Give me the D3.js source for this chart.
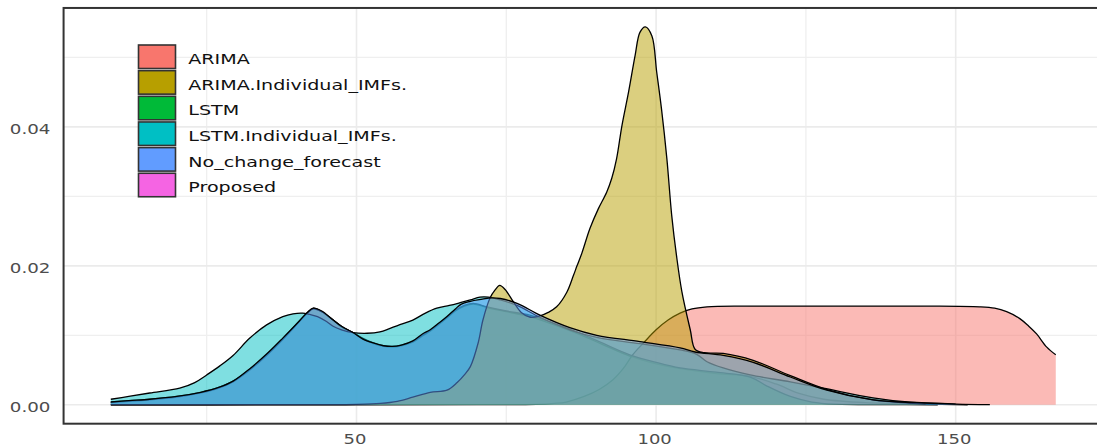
<!DOCTYPE html>
<html><head><meta charset="utf-8">
<script src="https://cdn.jsdelivr.net/npm/d3@7"></script>
<style>body{margin:0;background:#fff} svg{display:block}</style>
</head><body><svg id="c" width="1097" height="448"></svg>
<script>
// ---- data ----
const seriesNames = ["ARIMA","ARIMA.Individual_IMFs.","LSTM","LSTM.Individual_IMFs.","No_change_forecast","Proposed"];
const palette = ["#F8766D","#B79F00","#00BA38","#00BFC4","#619CFF","#F564E3"];
const drawOrder = ["Proposed","ARIMA","LSTM","LSTM.Individual_IMFs.","ARIMA.Individual_IMFs.","No_change_forecast"];

const arimaX = [9,40,70,80,83,85,88,90.5,92.8,94.5,96.1,98,100,102,104,106,108.5,115,130,145,154,156.5,158.5,160.7,162.2,163.5,165.2,166.7];
const arimaY = [0.00001,0.00001,0.00002,0.00005,0.0002,0.0004,0.0012,0.0022,0.0036,0.0052,0.0072,0.0090,0.0108,0.0122,0.0132,0.0138,0.0141,0.0142,0.0142,0.0142,0.0141,0.0139,0.0134,0.0124,0.0113,0.0102,0.0083,0.0072];

const arimaImfX = [9,40,50,54,56.8,59.4,62.3,65.1,66.8,68,69,70.3,71.1,72.3,73.1,73.9,74.8,76.2,77.5,79,80.6,82,83.4,85.1,86.2,86.8,87.6,88.97,90.35,91.75,92.6,93.4,94.3,95.4,96.5,97.3,98.2,99.3,100.1,100.9,101.8,102.6,103.4,104.3,105.7,106.5,108,111.2,116.2,122.4,128.5,136.2,145];
const arimaImfY = [0.00001,0.00002,0.00006,0.0002,0.0005,0.0011,0.0018,0.0021,0.0032,0.0043,0.0055,0.0089,0.0122,0.0154,0.0165,0.0172,0.0166,0.0148,0.0133,0.0126,0.0128,0.0133,0.0141,0.0162,0.0186,0.0200,0.0218,0.0254,0.0282,0.0306,0.0326,0.0354,0.0402,0.0450,0.0503,0.0536,0.0544,0.0531,0.0479,0.0426,0.0354,0.0273,0.0215,0.0163,0.0108,0.0080,0.0075,0.0074,0.0064,0.0042,0.0022,0.0007,0.0001];

const lstmX = [9,12,15.5,20,24,27,29.4,32.2,35,37.7,40.5,41.8,42.8,44.2,46.1,47.5,49.4,51,52.8,54.5,56,57.5,59.4,61,62.3,63.8,65.1,66.5,68,69.5,71.8,75,78.9,83,87.3,91,95.6,100,104,110,115.7,118.5,122.4,126,130,138,147];
const lstmY = [0.0003,0.0005,0.0007,0.0011,0.0017,0.0024,0.0033,0.0050,0.0071,0.0094,0.0120,0.0132,0.0138,0.0134,0.0122,0.0113,0.0104,0.0096,0.0089,0.0085,0.0084,0.0086,0.0091,0.0100,0.0107,0.0117,0.0126,0.0136,0.0143,0.0146,0.0141,0.0135,0.0129,0.0117,0.0103,0.0089,0.0072,0.0061,0.0053,0.0047,0.0040,0.0027,0.0012,0.0004,0.0001,0.00003,0.00001];

const lstmImfX = [9,12,15.5,20.5,23,25,27.2,29.4,32.2,35,37.7,39.4,41,42.2,43.5,45,46.1,47.5,49.4,51.8,53.9,55.6,57.5,59.4,61.5,63.4,65.5,67.3,69,70.6,72,74,76.8,80.6,85.6,90.1,97.3,104,106.7,108.5,111.2,115.7,122.4,127.9,136.2,142,150];
const lstmImfY = [0.0008,0.0012,0.0017,0.0024,0.0032,0.0043,0.0056,0.0071,0.0096,0.0115,0.0127,0.0131,0.0132,0.0130,0.0127,0.0120,0.0113,0.0108,0.0104,0.0103,0.0105,0.0110,0.0116,0.0122,0.0132,0.0139,0.0143,0.0147,0.0151,0.0155,0.0155,0.0151,0.0143,0.0126,0.0108,0.0097,0.0088,0.0079,0.0073,0.0062,0.0053,0.0043,0.0033,0.0024,0.0010,0.0004,0.0001];

const noChangeX = [9,12,15.5,20,24,27,29.4,32.2,35,37.7,40.5,41.8,42.8,44.2,46.1,47.5,49.4,51,52.8,54.5,56,57.5,59.4,61,62.3,63.8,65.1,66.5,67.5,69,71,72.5,74,76.8,80.6,85.6,90.1,97.3,104,106.5,111.2,116.2,122.4,128.5,136.2,143.5,150,155.7];
const noChangeY = [0.0004,0.0006,0.0008,0.0012,0.0018,0.0025,0.0034,0.0052,0.0073,0.0096,0.0121,0.0133,0.0139,0.0135,0.0122,0.0113,0.0104,0.0095,0.0089,0.0085,0.0084,0.0086,0.0092,0.0102,0.0108,0.0118,0.0127,0.0138,0.0145,0.0149,0.0152,0.0154,0.0153,0.0146,0.0129,0.0111,0.0100,0.0091,0.0082,0.0076,0.0071,0.0061,0.0040,0.0021,0.0007,0.0003,0.0001,0.00002];

const proposedX = [9,12,15.5,20,24,27,29.4,32.2,35,37.7,40.5,41.8,42.8,44.2,46.1,47.5,49.4,51,52.8,54.5,56,57.5,59.4,61,62.3,63.8,65.1,66.5,68,69.5,71.8,75,78.9,83,87.3,91,95.6,100,104,110,115.7,120,124,128,135,145,152];
const proposedY = [0.0004,0.0006,0.0008,0.0012,0.0018,0.0025,0.0034,0.0051,0.0072,0.0095,0.0121,0.0133,0.0139,0.0134,0.0122,0.0112,0.0104,0.0095,0.0088,0.0084,0.0083,0.0085,0.0090,0.0099,0.0106,0.0116,0.0125,0.0135,0.0142,0.0145,0.0140,0.0134,0.0127,0.0115,0.0101,0.0087,0.0070,0.0059,0.0052,0.0045,0.0041,0.0030,0.0016,0.0008,0.0003,0.0001,0.00001];

const xMajorTicks = [50,100,150];
const xMinorTicks = [25,75,125,175];
const yMajorTicks = [0,0.02,0.04];
const yMinorTicks = [0.01,0.03,0.05];

const seriesData = {
  "ARIMA": d3.zip(arimaX, arimaY),
  "ARIMA.Individual_IMFs.": d3.zip(arimaImfX, arimaImfY),
  "LSTM": d3.zip(lstmX, lstmY),
  "LSTM.Individual_IMFs.": d3.zip(lstmImfX, lstmImfY),
  "No_change_forecast": d3.zip(noChangeX, noChangeY),
  "Proposed": d3.zip(proposedX, proposedY)
};

// ---- layout ----
const svg = d3.select("#c");
const xs = d3.scaleLinear().domain([25,150]).range([206.7,955.7]);
const ys = d3.scaleLinear().domain([0,0.04]).range([404.8,126.9]);
const color = d3.scaleOrdinal().domain(seriesNames).range(palette);

const allX = Object.values(seriesData).flat().map(d=>d[0]);
const allY = Object.values(seriesData).flat().map(d=>d[1]);
const [xmin,xmax] = d3.extent(allX);
const ymax = d3.max(allY);
const px0 = xs(xmin - 0.05*(xmax-xmin)), px1 = xs(xmax + 0.05*(xmax-xmin));
const py0 = ys(-0.05*ymax), py1 = ys(1.05*ymax);

svg.append("rect").attr("x",0).attr("y",0).attr("width",1097).attr("height",448).attr("fill","#fff");
svg.append("clipPath").attr("id","pc").append("rect")
  .attr("x",px0).attr("y",py1).attr("width",px1-px0).attr("height",py0-py1);

const g = svg.append("g").attr("clip-path","url(#pc)");
// grid
g.selectAll(".ymin").data(yMinorTicks).join("line")
  .attr("x1",px0).attr("x2",px1).attr("y1",d=>ys(d)).attr("y2",d=>ys(d))
  .attr("stroke","#EFEFEF").attr("stroke-width",1.3);
g.selectAll(".xmin").data(xMinorTicks).join("line")
  .attr("y1",py0).attr("y2",py1).attr("x1",d=>xs(d)).attr("x2",d=>xs(d))
  .attr("stroke","#EFEFEF").attr("stroke-width",1.3);
g.selectAll(".ymaj").data(yMajorTicks).join("line")
  .attr("x1",px0).attr("x2",px1).attr("y1",d=>ys(d)).attr("y2",d=>ys(d))
  .attr("stroke","#EBEBEB").attr("stroke-width",1.6);
g.selectAll(".xmaj").data(xMajorTicks).join("line")
  .attr("y1",py0).attr("y2",py1).attr("x1",d=>xs(d)).attr("x2",d=>xs(d))
  .attr("stroke","#EBEBEB").attr("stroke-width",1.6);

// densities
const curve = d3.curveCatmullRom.alpha(0.5);
const area = d3.area().x(d=>xs(d[0])).y0(ys(0)).y1(d=>ys(Math.max(0,d[1]))).curve(curve);
const line = d3.line().x(d=>xs(d[0])).y(d=>ys(d[1])).curve(curve);
drawOrder.forEach(name=>{
  const data = seriesData[name];
  g.append("path").attr("d",area(data)).attr("fill",color(name)).attr("fill-opacity",0.5);
  g.append("path").attr("d",line(data)).attr("fill","none").attr("stroke","#000").attr("stroke-width",1.3).attr("stroke-linejoin","round");
});

// panel border
svg.append("rect").attr("x",px0).attr("y",py1).attr("width",px1-px0).attr("height",py0-py1)
  .attr("fill","none").attr("stroke","#333").attr("stroke-width",2);

// axis labels
const font = "'DejaVu Sans', sans-serif";
svg.selectAll(".yl").data(yMajorTicks).join("text")
  .attr("transform",d=>`translate(50.5,${ys(d)+7}) scale(1.26,1)`)
  .attr("text-anchor","end").attr("font-family",font).attr("font-size",14.5).attr("fill","#4D4D4D")
  .text(d3.format(".2f"));
svg.selectAll(".xl").data(xMajorTicks).join("text")
  .attr("transform",d=>`translate(${xs(d)-1.5},444) scale(1.24,1)`)
  .attr("text-anchor","middle").attr("font-family",font).attr("font-size",14.5).attr("fill","#4D4D4D")
  .text(d=>d);

// legend
const lg = svg.append("g");
const pitch = 25.65;
seriesNames.forEach((name,i)=>{
  const top = 45 + i*pitch;
  lg.append("rect").attr("x",138.5).attr("y",top).attr("width",37).attr("height",23.5)
    .attr("fill",color(name)).attr("stroke","#333").attr("stroke-width",1.6);
  lg.append("text").attr("transform",`translate(188.3,${top+19}) scale(1.317,1)`)
    .attr("font-family",font).attr("font-size",14.5).attr("fill","#111").text(name);
});
</script></body></html>
